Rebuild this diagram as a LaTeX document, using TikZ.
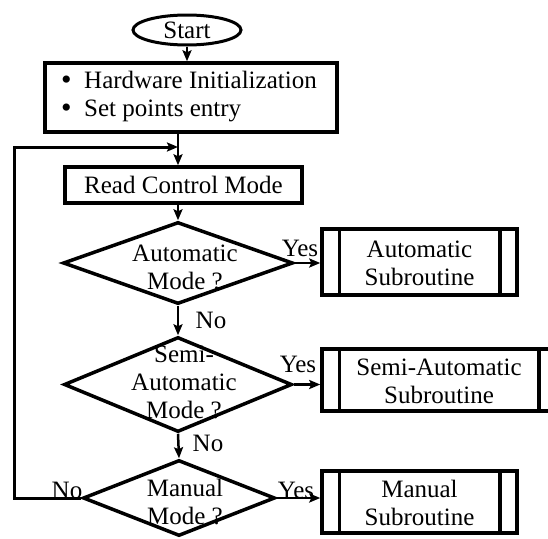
\documentclass[tikz,border=0pt]{standalone}
\usepackage{fontspec}
\setmainfont{Liberation Serif}
\usetikzlibrary{shapes.geometric,arrows.meta}
\newcommand{\bigbullet}{\makebox[23pt][l]{\raisebox{-1pt}{\fontsize{30}{28}\selectfont\textbullet}}}
\begin{document}
\begin{tikzpicture}[x=1pt,y=-1pt,
  every node/.style={font=\fontsize{25}{28}\selectfont},
  box/.style={draw, line width=3.5pt, inner sep=0pt},
  dia/.style={draw, diamond, line width=3.5pt, inner sep=0pt},
  term/.style={draw, ellipse, line width=3pt, inner sep=0pt},
  txt/.style={inner sep=0pt, align=center},
  conn/.style={line width=2.5pt, -{Stealth[length=11pt,width=9pt,inset=2pt]}},
  lbl/.style={inner sep=0pt}]
\clip (0,0) rectangle (548,538);
\fill[white] (0,0) rectangle (548,538);

% start / init / read
\node[term, minimum width=108pt, minimum height=30pt] (start) at (187,30) {Start};
\node[box, minimum width=292pt, minimum height=69pt] (hw) at (191,97.5) {};
\node[txt, align=left, anchor=west] (hwtext) at (61,97) {\bigbullet Hardware Initialization\\\bigbullet Set points entry};
\node[box, minimum width=237pt, minimum height=36pt] (read) at (183.5,185) {Read Control Mode};

% decisions
\node[dia, minimum width=230pt, minimum height=82pt] (d1) at (178,263) {};
\node[txt] (d1t) at (185,267) {Automatic\\Mode ?};
\node[dia, minimum width=228pt, minimum height=95pt] (d2) at (178,384.5) {};
\node[txt] (d2t) at (184,382) {Semi-\\Automatic\\Mode ?};
\node[dia, minimum width=192pt, minimum height=76pt] (d3) at (179,498) {};
\node[txt] (d3t) at (185,502) {Manual\\Mode ?};

% subroutines
\node[box, minimum width=195pt, minimum height=66pt] (auto) at (419.5,262) {};
\node[txt] (autot) at (419.5,263) {Automatic\\Subroutine};
\node[box, minimum width=234pt, minimum height=62pt] (semi) at (439,380) {};
\node[txt] (semit) at (439,381) {Semi-Automatic\\Subroutine};
\node[box, minimum width=195pt, minimum height=62pt] (man) at (419.5,502) {};
\node[txt] (mant) at (419.5,503) {Manual\\Subroutine};
\foreach \b in {auto,semi,man}{
  \draw[line width=3.5pt] ([xshift=19pt]\b.north west) -- ([xshift=19pt]\b.south west);
  \draw[line width=3.5pt] ([xshift=-19pt]\b.north east) -- ([xshift=-19pt]\b.south east);
}

% connectors
\coordinate (join) at (178,147);
\draw[conn] (start.south) -- (start.south |- hw.north);
\draw[conn] (hw.south -| d1) -- (read.north -| d1);
\draw[conn] (read.south -| d1) -- (d1.north);
\draw[conn] (d1.south) -- (d2.north);
\draw[conn] (d2.south) -- (d3.north);
\draw[conn] (d1.east) -- (d1.east -| auto.west);
\draw[conn] (d2.east) -- (d2.east -| semi.west);
\draw[conn] (d3.east) -- (d3.east -| man.west);
\draw[conn, line width=3pt] (d3.west) -- ++(-67,0) |- (join);

% branch labels
\node[lbl] (y1) at (300,248) {Yes};
\node[lbl] (n1) at (211,320) {No};
\node[lbl] (y2) at (298,364) {Yes};
\node[lbl] (n2) at (208,443) {No};
\node[lbl] (n3) at (67,490) {No};
\node[lbl] (y3) at (296,490) {Yes};
\end{tikzpicture}
\end{document}
